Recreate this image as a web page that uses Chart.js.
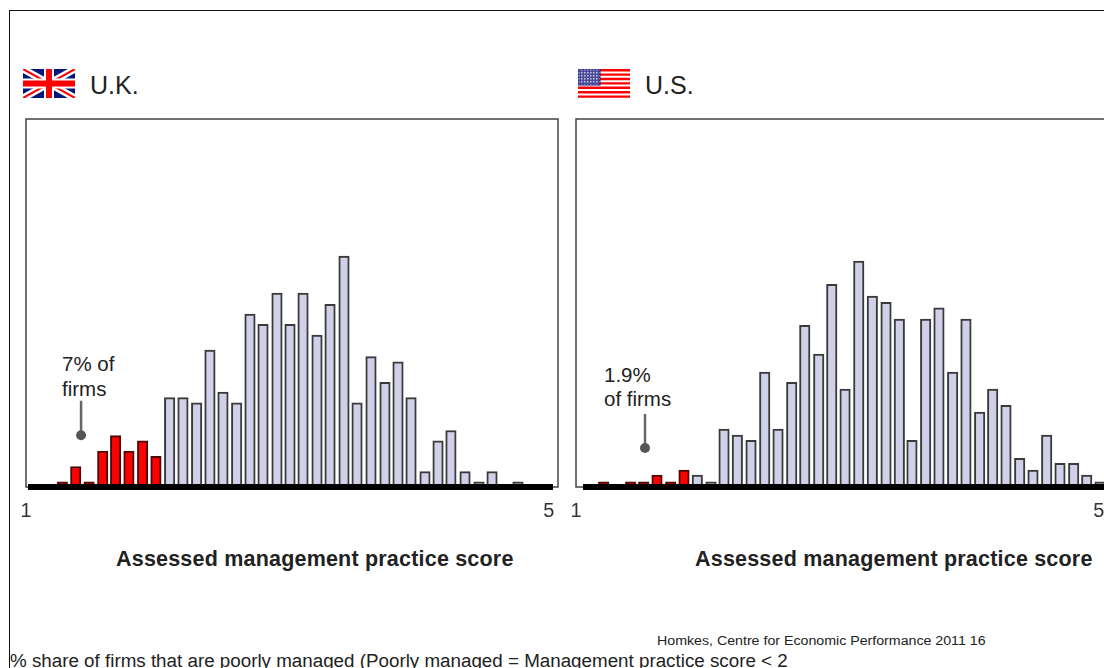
<!DOCTYPE html>
<html><head><meta charset="utf-8">
<script src="https://cdn.jsdelivr.net/npm/chart.js@4"></script>
<style>
html,body{margin:0;padding:0;background:#fff;overflow:hidden;width:1104px;height:668px}
#stage{position:relative;width:1104px;height:668px;overflow:hidden;font-family:"Liberation Sans",Arial,sans-serif;color:#222}
#edge{position:absolute;left:9px;top:10px;width:1200px;height:700px;border:1px solid #111;box-sizing:border-box}
canvas{position:absolute;top:100px}
.t{position:absolute;white-space:nowrap;line-height:1}
.country{font-size:25px;top:73px}
.note{font-size:20.5px;line-height:24.5px;white-space:pre}
.axis{font-weight:bold;font-size:21.5px;top:549px;letter-spacing:.2px}
svg{position:absolute;top:69px}
</style></head><body>
<div id="stage">
<div id="edge"></div>
<svg style="left:23px" width="52" height="29" viewBox="0 0 52 29">
<rect width="52" height="29" fill="#00187a"/>
<path d="M0 0L52 29M52 0L0 29" stroke="#fff" stroke-width="7"/>
<path d="M0 0L52 29M52 0L0 29" stroke="#f00" stroke-width="2"/>
<path d="M26 0V29M0 14.5H52" stroke="#fff" stroke-width="10"/>
<path d="M26 0V29M0 14.5H52" stroke="#f00" stroke-width="6"/>
</svg>
<svg style="left:578px" width="52" height="29" viewBox="0 0 52 29">
<defs><pattern id="stars" width="3" height="3" patternUnits="userSpaceOnUse"><rect width="3" height="3" fill="#4a4a9a"/><rect width="1.5" height="1.5" fill="#c8c8dc"/></pattern></defs>
<rect width="52" height="29" fill="#fff"/>
<path d="M0 1.2H52M0 5.6H52M0 10H52M0 14.4H52M0 18.8H52M0 23.2H52M0 27.6H52" stroke="#f00" stroke-width="2.4"/>
<rect width="22" height="16" fill="url(#stars)" stroke="#1a1a80"/>
</svg>
<div class="t country" style="left:90px">U.K.</div>
<div class="t country" style="left:645px">U.S.</div>
<div class="t note" style="left:62px;top:352px">7% of
firms</div>
<div class="t note" style="left:604px;top:362.5px">1.9%
of firms</div>
<div class="t axis" style="left:116px">Assessed management practice score</div>
<div class="t axis" style="left:695px">Assessed management practice score</div>
<div class="t" style="left:657px;top:634px;font-size:14.2px;transform:scaleY(.85);transform-origin:left center">Homkes, Centre for Economic Performance 2011 16</div>
<div class="t" style="left:10px;top:652px;font-size:18.8px">% share of firms that are poorly managed (Poorly managed = Management practice score &lt; 2</div>
<canvas id="uk" width="572" height="440" style="left:0"></canvas>
<canvas id="us" width="572" height="440" style="left:550px"></canvas>
</div>
<script>
const xTickValues = [1, 4.93];
const xTickLabels = ['1', '5'];

const ukScores = [1.273,1.374,1.474,1.577,1.674,1.774,1.877,1.977,2.080,2.180,2.283,2.383,2.481,2.584,2.684,2.782,2.887,2.985,3.083,3.188,3.286,3.391,3.489,3.594,3.699,3.797,3.895,4.000,4.098,4.195,4.301,4.406,4.504,4.699];
const ukValues = [1,4,1,7,10,7,9,6,17.4,17.4,16.4,26.7,18.5,16.4,33.7,31.7,37.8,31.7,37.8,29.6,35.6,45,16.4,25.4,20.4,24.4,17.4,3,9,11,3,1,3,1];
const ukCut = 2;
const ukLeader = [{x:1.414,y:16.8},{x:1.414,y:10.1}];
const ukAxis = [{x:1.015,y:0},{x:4.962,y:0}];

const usScores = [1.208,1.411,1.509,1.609,1.712,1.812,1.912,2.015,2.113,2.213,2.316,2.419,2.519,2.622,2.720,2.825,2.923,3.023,3.126,3.228,3.331,3.431,3.526,3.629,3.729,3.832,3.932,4.035,4.133,4.233,4.336,4.436,4.539,4.639,4.742,4.840,4.940];
const usValues = [1,1,1,2.3,1,3.3,2.3,1,11.3,10.1,9.1,22.4,11.3,20.4,31.5,25.9,39.5,19.1,44,37.2,36,32.7,9.1,32.7,34.9,22.4,32.7,14.6,19.1,15.9,5.6,3.3,10.1,4.6,4.6,2.3,1];
const usCut = 1.85;
const usLeader = [{x:1.519,y:14.2},{x:1.519,y:7.6}];
const usAxis = [{x:1.053,y:0},{x:5,y:0}];

const frame = {
  id:'frame',
  beforeDatasetsDraw(c){
    const a=c.chartArea,g=c.ctx;
    g.save();g.strokeStyle='#444';g.lineWidth=1.5;
    g.strokeRect(a.left,a.top,a.right-a.left,a.bottom-a.top);
    g.restore();
  }
};

function draw(id,scores,values,cut,leader,axisLine){
  new Chart(document.getElementById(id),{
    type:'bar',
    plugins:[frame],
    data:{datasets:[
      {type:'line',data:axisLine,borderColor:'#000',borderWidth:6,pointRadius:0,clip:false,order:1,borderCapStyle:'butt'},
      {type:'line',data:leader,borderColor:'#666',borderWidth:2.5,pointRadius:[0,5],pointBackgroundColor:'#555',pointBorderWidth:0,clip:false,order:2},
      {type:'bar',data:scores.map((s,i)=>({x:s,y:values[i]})),
       backgroundColor:scores.map(s=>s<cut?'#ff0000':'#d0d0e8'),
       borderColor:scores.map(s=>s<cut?'#4a0a0a':'#3a3a3a'),borderWidth:2,borderSkipped:false,barThickness:10.5,order:3}
    ]},
    options:{
      responsive:false,animation:false,
      layout:{padding:{left:26,top:19,right:14,bottom:0}},
      plugins:{legend:{display:false},tooltip:{enabled:false},title:{display:false}},
      scales:{
        x:{type:'linear',min:1,max:5,offset:false,grid:{display:false,offset:false},border:{display:false},
           afterBuildTicks(s){s.ticks=xTickValues.map(v=>({value:v}));},
           afterFit(s){s.height=53;},
           ticks:{autoSkip:false,maxRotation:0,padding:4,color:'#333',font:{family:'"Liberation Sans"',size:20},
                  callback(v){return xTickLabels[xTickValues.indexOf(v)];}}},
        y:{min:0,max:71.7,display:false,grid:{display:false}}
      }
    }
  });
}
draw('uk',ukScores,ukValues,ukCut,ukLeader,ukAxis);
draw('us',usScores,usValues,usCut,usLeader,usAxis);
</script>
</body></html>
